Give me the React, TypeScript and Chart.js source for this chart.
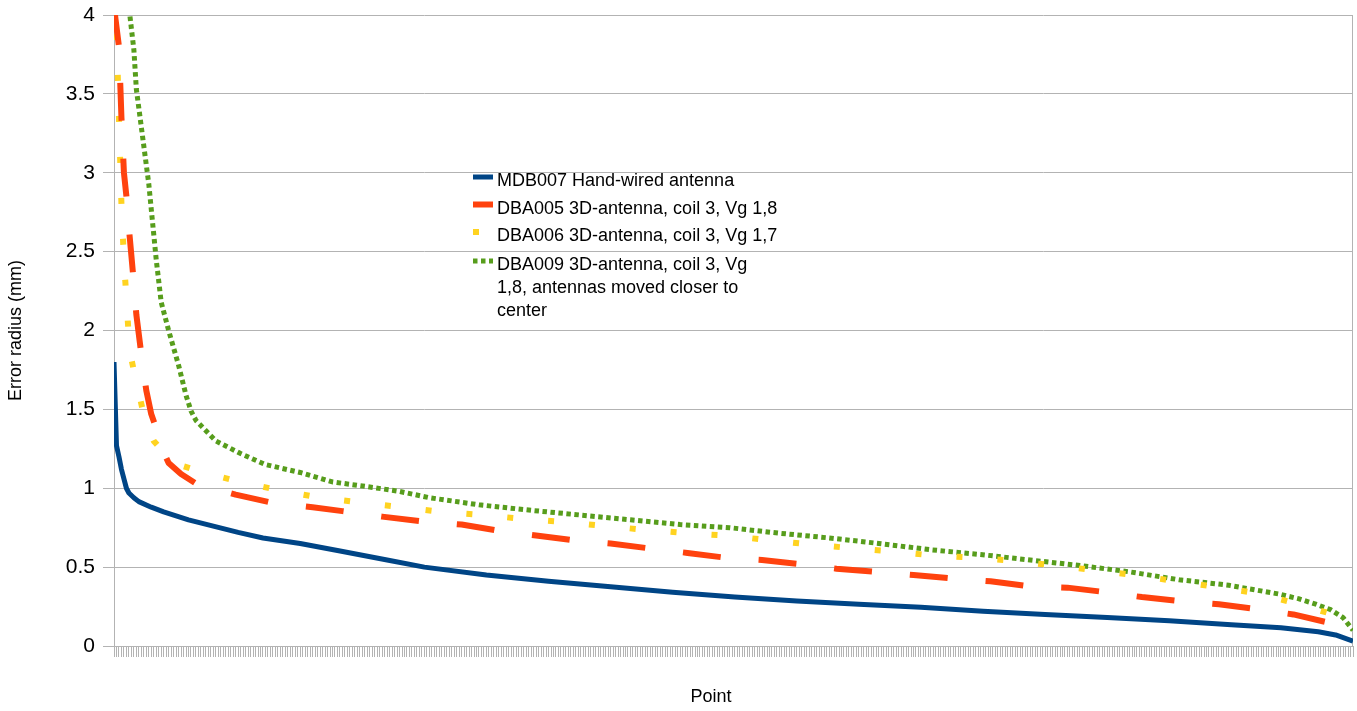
import React, { useEffect, useRef } from 'react';
import { Chart, registerables } from 'chart.js';

Chart.register(...registerables);

// ---- Data ----
const POINT_COUNT = 500;
const xAxisTitle = 'Point';
const yAxisTitle = 'Error radius (mm)';
const yMin = 0;
const yMax = 4;
const yStep = 0.5;

const seriesNames = [
  'MDB007 Hand-wired antenna',
  'DBA005 3D-antenna, coil 3, Vg 1,8',
  'DBA006 3D-antenna, coil 3, Vg 1,7',
  'DBA009 3D-antenna, coil 3, Vg 1,8, antennas moved closer to center',
];
const legendLines = [
  ['MDB007 Hand-wired antenna'],
  ['DBA005 3D-antenna, coil 3, Vg 1,8'],
  ['DBA006 3D-antenna, coil 3, Vg 1,7'],
  ['DBA009 3D-antenna, coil 3, Vg', '1,8, antennas moved closer to', 'center'],
];

const mdb007Point = [0, 1, 2, 3, 4, 5, 6, 8, 10, 15, 20, 30, 40, 50, 60, 75, 90, 100, 110, 125, 150, 175, 200, 225, 250, 275, 300, 325, 350, 375, 400, 425, 450, 470, 485, 492, 499];
const mdb007Value = [1.8, 1.27, 1.2, 1.12, 1.06, 1.0, 0.97, 0.94, 0.915, 0.88, 0.85, 0.8, 0.76, 0.72, 0.685, 0.65, 0.605, 0.575, 0.545, 0.5, 0.45, 0.41, 0.375, 0.34, 0.31, 0.285, 0.265, 0.245, 0.22, 0.2, 0.18, 0.16, 0.135, 0.115, 0.09, 0.07, 0.03];

const dba005Point = [0, 2, 3, 4, 5, 6, 8, 9, 11, 13, 15, 17, 19, 22, 27, 33, 49, 63, 80, 92, 108, 124, 140, 155, 170, 185, 200, 215, 231, 246, 261, 276, 291, 307, 322, 336, 353, 368, 384, 400, 414, 429, 445, 460, 475, 490, 499];
const dba005Value = [4.05, 3.8, 3.35, 3.0, 2.85, 2.65, 2.3, 2.1, 1.85, 1.62, 1.47, 1.38, 1.26, 1.16, 1.09, 1.03, 0.96, 0.91, 0.88, 0.855, 0.82, 0.79, 0.77, 0.73, 0.7, 0.67, 0.65, 0.62, 0.59, 0.56, 0.545, 0.52, 0.49, 0.47, 0.45, 0.43, 0.41, 0.38, 0.37, 0.34, 0.31, 0.285, 0.265, 0.235, 0.2, 0.145, 0.1];

const dba006Point = [0, 1, 2, 3, 4, 5, 6, 7, 9, 13, 16, 21, 26, 36, 51, 67, 83, 99, 116, 132, 149, 165, 182, 198, 215, 231, 247, 264, 280, 297, 313, 329, 346, 362, 379, 395, 411, 428, 444, 460, 476, 491, 499];
const dba006Value = [4.4, 3.9, 3.35, 2.8, 2.45, 2.2, 1.95, 1.82, 1.67, 1.4, 1.3, 1.21, 1.15, 1.1, 1.04, 0.985, 0.94, 0.91, 0.88, 0.85, 0.83, 0.805, 0.785, 0.76, 0.735, 0.715, 0.7, 0.67, 0.645, 0.62, 0.6, 0.575, 0.56, 0.54, 0.51, 0.48, 0.45, 0.41, 0.375, 0.335, 0.27, 0.2, 0.12];

const dba009Point = [0, 6, 8, 9, 12, 14, 17, 19, 22, 26, 29, 31, 33, 41, 51, 61, 75, 88, 102, 115, 127, 147, 168, 188, 208, 228, 248, 268, 288, 308, 329, 349, 369, 389, 409, 429, 449, 469, 477, 484, 490, 495, 499];
const dba009Value = [5.0, 4.05, 3.78, 3.53, 3.17, 2.93, 2.45, 2.18, 2.0, 1.78, 1.59, 1.49, 1.43, 1.3, 1.22, 1.15, 1.1, 1.04, 1.01, 0.98, 0.94, 0.895, 0.86, 0.83, 0.8, 0.77, 0.75, 0.715, 0.685, 0.65, 0.61, 0.58, 0.545, 0.51, 0.47, 0.42, 0.385, 0.33, 0.3, 0.265, 0.23, 0.18, 0.1];

// ---- Styles ----
const seriesColors = ['#004586', '#ff420e', '#ffd320', '#579d1c'];
const seriesWidths = [5, 6, 6, 5];
const seriesDashes: number[][] = [[], [38, 38], [6, 35], [4.5, 3.5]];
const gridColor = '#b3b3b3';
const FONT = '"Liberation Sans", Arial, sans-serif';

const toXY = (xs: number[], ys: number[]) => xs.map((x, i) => ({ x, y: ys[i] }));

const framePlugin = {
  id: 'frame',
  beforeDatasetsDraw(chart: any) {
    const { ctx, chartArea } = chart;
    ctx.save();
    ctx.strokeStyle = gridColor;
    ctx.lineWidth = 1;
    ctx.beginPath();
    const x = Math.round(chartArea.right) - 0.5;
    ctx.moveTo(x, chartArea.top);
    ctx.lineTo(x, chartArea.bottom);
    ctx.stroke();
    ctx.restore();
  },
};

const xTitlePlugin = {
  id: 'xTitle',
  afterDraw(chart: any) {
    const { ctx } = chart;
    ctx.save();
    ctx.font = '18px ' + FONT;
    ctx.fillStyle = '#000';
    ctx.textAlign = 'center';
    ctx.textBaseline = 'middle';
    ctx.fillText(xAxisTitle, 711, 697);
    ctx.restore();
  },
};

const legendPlugin = {
  id: 'innerLegend',
  afterDraw(chart: any) {
    const { ctx } = chart;
    const swatchX = 473;
    const swatchW = 20;
    const textX = 497;
    const rowY = [181.5, 209, 236.5, 265.5];
    const lineGap = 23;
    ctx.save();
    ctx.font = '18px ' + FONT;
    ctx.fillStyle = '#000';
    ctx.textBaseline = 'middle';
    ctx.textAlign = 'left';
    legendLines.forEach((lines, i) => {
      const y0 = rowY[i];
      const sy = y0 - 4.5;
      ctx.save();
      ctx.strokeStyle = seriesColors[i];
      ctx.lineWidth = seriesWidths[i];
      ctx.lineCap = 'butt';
      ctx.setLineDash(seriesDashes[i]);
      ctx.beginPath();
      ctx.moveTo(swatchX, sy);
      ctx.lineTo(swatchX + swatchW, sy);
      ctx.stroke();
      ctx.restore();
      lines.forEach((t, j) => {
        ctx.fillText(t, textX, y0 + j * lineGap);
      });
    });
    ctx.restore();
  },
};

export default function App() {
  const canvasRef = useRef<HTMLCanvasElement | null>(null);

  useEffect(() => {
    if (!canvasRef.current) return;
    Chart.defaults.font.family = FONT;
    const series = [
      toXY(mdb007Point, mdb007Value),
      toXY(dba005Point, dba005Value),
      toXY(dba006Point, dba006Value),
      toXY(dba009Point, dba009Value),
    ];
    const chart = new Chart(canvasRef.current, {
      type: 'line',
      data: {
        datasets: series.map((d, i) => ({
          label: seriesNames[i],
          data: d,
          borderColor: seriesColors[i],
          backgroundColor: seriesColors[i],
          borderWidth: seriesWidths[i],
          borderDash: seriesDashes[i],
          borderCapStyle: 'butt',
          borderJoinStyle: 'round',
          pointRadius: 0,
          pointHoverRadius: 0,
          tension: 0,
          fill: false,
          clip: 0,
          order: i,
        })),
      },
      options: {
        animation: false,
        responsive: false,
        devicePixelRatio: 1,
        events: [],
        layout: { padding: { top: 15, right: 4, left: 0, bottom: 0 } },
        plugins: {
          legend: { display: false },
          tooltip: { enabled: false },
        },
        scales: {
          x: {
            type: 'linear',
            min: 0,
            max: POINT_COUNT - 1,
            ticks: { display: false, stepSize: 1 },
            grid: {
              drawOnChartArea: false,
              drawTicks: true,
              tickLength: 11,
              color: gridColor,
            },
            border: { display: true, color: gridColor },
            title: { display: false, text: xAxisTitle },
            afterFit: (s: any) => {
              s.height = 65;
              s.paddingLeft = 0;
              s.paddingRight = 0;
            },
          },
          y: {
            min: yMin,
            max: yMax,
            ticks: {
              stepSize: yStep,
              color: '#000',
              font: { size: 21, family: FONT },
              padding: 8,
              callback: (v: any) => String(Number(v)),
            },
            grid: { color: gridColor, tickLength: 11 },
            border: { display: true, color: gridColor },
            title: {
              display: true,
              text: yAxisTitle,
              color: '#000',
              font: { size: 18, family: FONT },
              padding: { top: 5, bottom: 4 },
            },
            afterFit: (s: any) => {
              s.width = 114;
              s.paddingTop = 0;
              s.paddingBottom = 0;
            },
          },
        },
      },
      plugins: [framePlugin, xTitlePlugin, legendPlugin],
    });
    return () => chart.destroy();
  }, []);

  return (
    <div style={{ position: 'fixed', left: 0, top: 0, width: 1357, height: 711, background: '#fff' }}>
      <canvas ref={canvasRef} width={1357} height={711} style={{ width: 1357, height: 711, display: 'block' }} />
    </div>
  );
}
